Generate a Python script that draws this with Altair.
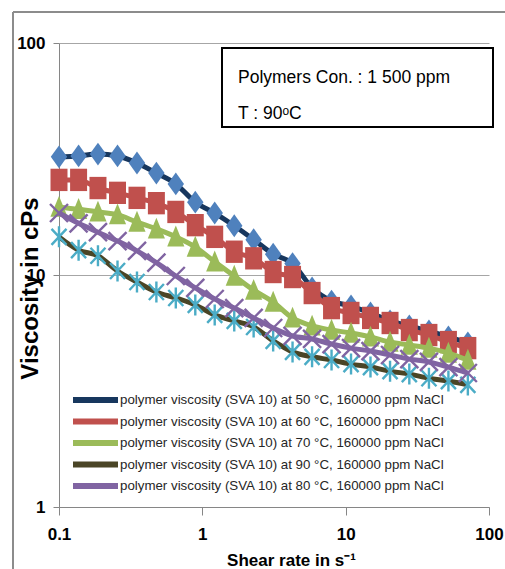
import altair as alt
import pandas as pd

# ---------------- data ----------------
shear_rate = [0.1, 0.137, 0.187, 0.256, 0.35, 0.478, 0.653, 0.893, 1.22, 1.67, 2.28,
              3.12, 4.26, 5.83, 7.97, 10.9, 14.9, 20.4, 27.8, 38.1, 52.1, 71.2]

visc_50 = [32.3, 32.6, 33.2, 32.6, 30.4, 27.5, 24.7, 20.6, 18.5, 16.3, 14.2,
           12.3, 11.2, 8.8, 7.72, 7.35, 6.86, 6.34, 6.03, 5.74, 5.41, 5.10]
visc_60 = [25.7, 25.7, 23.7, 22.6, 21.5, 20.4, 18.7, 16.4, 14.6, 12.6, 11.8,
           10.3, 9.8, 8.36, 7.20, 6.86, 6.53, 6.21, 5.79, 5.51, 5.14, 4.84]
visc_70 = [19.6, 19.2, 18.7, 18.2, 16.9, 15.8, 14.6, 13.2, 11.4, 9.9, 8.6,
           7.65, 6.53, 6.03, 5.79, 5.62, 5.41, 5.14, 4.99, 4.84, 4.61, 4.30]
visc_90 = [14.6, 12.8, 12.1, 10.4, 9.33, 8.45, 7.96, 7.43, 6.73, 6.34, 5.97,
           5.20, 4.66, 4.44, 4.30, 4.13, 4.01, 3.85, 3.74, 3.59, 3.49, 3.36]
visc_80 = [18.5, 16.7, 15.3, 14.0, 12.7, 11.3, 9.9, 8.8, 7.88, 7.20, 6.53,
           5.91, 5.46, 5.30, 5.04, 4.84, 4.70, 4.52, 4.34, 4.22, 4.01, 3.78]

series_names = [
    "polymer viscosity (SVA 10) at 50 °C, 160000 ppm NaCl",
    "polymer viscosity (SVA 10) at 60 °C, 160000 ppm NaCl",
    "polymer viscosity (SVA 10) at 70 °C, 160000 ppm NaCl",
    "polymer viscosity (SVA 10) at 90 °C, 160000 ppm NaCl",
    "polymer viscosity (SVA 10) at 80 °C, 160000 ppm NaCl",
]
series_values = [visc_50, visc_60, visc_70, visc_90, visc_80]

x_ticks = [0.1, 1, 10, 100]
y_ticks = [1, 10, 100]
x_title = "Shear rate in s⁻¹"
y_title = "Viscosity in cPs"
note_line1 = "Polymers Con. : 1 500 ppm"
note_line2 = "T : 90ᵒC"

# ---------------- styles ----------------
line_colors = ["#17375E", "#C0504D", "#9BBB59", "#4A4526", "#8064A2"]
marker_colors = ["#4F81BD", "#C0504D", "#9BBB59", "#4BACC6", "#8064A2"]
marker_shapes = [
    "M-0.72,0L0,-1L0.72,0L0,1Z",
    "M-0.76,-1L0.76,-1L0.76,1L-0.76,1Z",
    "M0,-1.05L0.8,0.9L-0.8,0.9Z",
    "M-0.75,-0.8L0.75,0.8M-0.75,0.8L0.75,-0.8M0,-1.05L0,1.05",
    "M-0.9,-0.9L0.9,0.9M-0.9,0.9L0.9,-0.9",
]
marker_filled = [True, True, True, False, False]
marker_sizes = [520, 500, 460, 400, 400]

FONT = "Liberation Sans, Arial, sans-serif"

rows = []
for name, vals in zip(series_names, series_values):
    for xv, yv in zip(shear_rate, vals):
        rows.append({"series": name, "shear": xv, "visc": yv})
df = pd.DataFrame(rows)

W, H = 430, 464
L, T = 59, 43

x_enc = alt.X(
    "shear:Q",
    scale=alt.Scale(type="log", domain=[0.1, 100], nice=False),
    axis=alt.Axis(
        values=x_ticks, format="~g", grid=False, title=x_title,
        labelFont=FONT, labelFontSize=17, labelFontWeight="bold", labelColor="#000000",
        labelPadding=11, tickSize=8, tickColor="#868686", domainColor="#868686",
        labelFlush=False, labelOverlap=False,
        titleFont=FONT, titleFontSize=17, titleFontWeight="bold", titleColor="#000000",
        titleX=232, titleY=58, titleBaseline="alphabetic", titleAlign="center",
    ),
)
y_enc = alt.Y(
    "visc:Q",
    scale=alt.Scale(type="log", domain=[1, 100], nice=False),
    axis=alt.Axis(
        values=y_ticks, format="d", grid=True, gridColor="#A6A6A6", gridWidth=1,
        title=y_title,
        labelFont=FONT, labelFontSize=17, labelFontWeight="bold", labelColor="#000000",
        labelPadding=8, tickSize=6, tickColor="#868686", domainColor="#868686",
        labelFlush=False, labelOverlap=False,
        titleFont=FONT, titleFontSize=24, titleFontWeight="bold", titleColor="#000000",
        titleAngle=270, titleX=-29, titleY=245, titleAlign="center", titleBaseline="middle",
    ),
)

legend = alt.Legend(
    orient="none", legendX=28.5, legendY=349, title=None, padding=0,
    symbolType="M-4.5,0L4.5,0", symbolSize=100, symbolStrokeWidth=6,
    labelFont=FONT, labelFontSize=13.3, labelColor="#262626", labelOffset=16.5,
    rowPadding=-2.5, labelLimit=0,
)
color_enc = alt.Color(
    "series:N",
    scale=alt.Scale(domain=series_names, range=line_colors),
    legend=legend,
)

one = pd.DataFrame({"k": [0]})

# outer frame (decorative)
frame_left = alt.Chart(one).mark_rule(color="#8C8C8C", strokeWidth=2).encode(
    x=alt.value(13 - L), y=alt.value(12 - T), y2=alt.value(600))
frame_top = alt.Chart(one).mark_rule(color="#8C8C8C", strokeWidth=2).encode(
    x=alt.value(13 - L), x2=alt.value(520), y=alt.value(12 - T))

# annotation box
box = alt.Chart(one).mark_rect(fill="white", stroke="#000000", strokeWidth=2).encode(
    x=alt.value(222 - L), x2=alt.value(493 - L), y=alt.value(48 - T), y2=alt.value(127 - T))
txt1 = alt.Chart(one).mark_text(
    align="left", baseline="alphabetic", font=FONT, fontSize=17.5, color="#000000"
).encode(x=alt.value(238 - L), y=alt.value(83 - T), text=alt.value(note_line1))
txt2 = alt.Chart(one).mark_text(
    align="left", baseline="alphabetic", font=FONT, fontSize=17.5, color="#000000"
).encode(x=alt.value(238 - L), y=alt.value(119 - T), text=alt.value(note_line2))

layers = [frame_left, frame_top, box, txt1, txt2]
base = alt.Chart(df)
for i, name in enumerate(series_names):
    sub = base.transform_filter(alt.datum.series == name)
    ln = sub.mark_line(strokeWidth=5, interpolate="monotone").encode(
        x=x_enc, y=y_enc, color=color_enc)
    if marker_filled[i]:
        pt = sub.mark_point(shape=marker_shapes[i], filled=True, size=marker_sizes[i],
                            fill=marker_colors[i], opacity=1, strokeWidth=0)
    else:
        pt = sub.mark_point(shape=marker_shapes[i], filled=False, size=marker_sizes[i],
                            stroke=marker_colors[i], opacity=1, strokeWidth=2.4)
    pt = pt.encode(x=x_enc, y=y_enc)
    layers += [ln, pt]

chart = alt.layer(*layers).properties(
    width=W, height=H,
    padding={"left": L, "top": T, "right": 505 - L - W, "bottom": 569 - T - H},
    autosize=alt.AutoSizeParams(type="none"),
    background="white",
).configure_view(stroke=None)

chart.save("out.html", embed_options={"renderer": "svg", "actions": False})
